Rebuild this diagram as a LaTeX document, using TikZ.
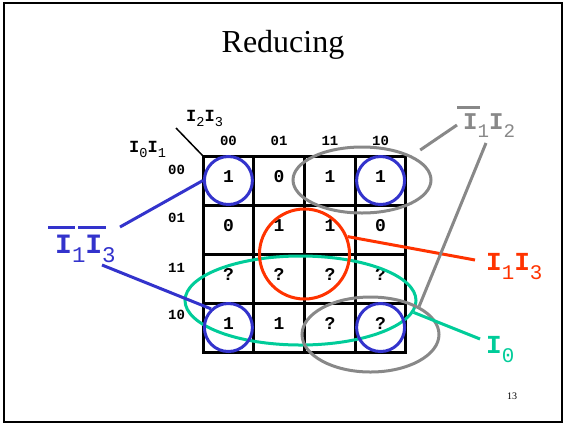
\documentclass[tikz,border=0pt]{standalone}
\usepackage{graphicx}
\usepackage{fontspec}
\setmainfont{Liberation Serif}
\setmonofont{Liberation Mono}
\usetikzlibrary{shapes.geometric}

\definecolor{kblue}{HTML}{3333CC}
\definecolor{kred}{HTML}{FF3300}
\definecolor{kgreen}{HTML}{00CC99}
\definecolor{kgray}{HTML}{888888}

% variable with subscript, and the same with a bar over it
\newcommand{\ix}[1]{I\raisebox{-0.35em}{\mdseries\scalebox{0.8}{#1}}}
\newcommand{\nix}[1]{\makebox[0pt][l]{\hspace{-0.25em}\rule[0.85em]{0.97em}{0.11em}}\ix{#1}}

\begin{document}
\begin{tikzpicture}[
  x=1pt,y=-1pt,
  every node/.style={inner sep=0pt},
  cell/.style={rectangle,draw=black,line width=3pt,outer sep=0pt,
    minimum width=50.75pt,minimum height=49pt,text height=11pt,text depth=7pt,
    font=\ttfamily\bfseries\fontsize{18}{18}\selectfont},
  hdr/.style={font=\ttfamily\bfseries\fontsize{14}{14}\selectfont},
  var/.style={font=\ttfamily\bfseries\fontsize{17}{17}\selectfont},
  big/.style={font=\ttfamily\bfseries\fontsize{#1}{#1}\selectfont},
  ring/.style={circle,draw,line width=3pt,minimum size=#1},
  oval/.style 2 args={ellipse,draw,line width=3pt,minimum width=#1,minimum height=#2},
  lead/.style={line width=3pt}
]
\useasboundingbox (0,0) rectangle (564,424);
\draw[line width=2.5pt] (4,3) rectangle (562,422);
\node[anchor=base,font=\fontsize{32}{32}\selectfont] (title) at (283,52) {Reducing};
\node[anchor=base,font=\fontsize{10}{10}\selectfont] (pgno) at (512,399) {13};
% ================= map cells =================
\node[cell] (c00) at (228.4,180.5) {1};
\node[cell] (c01) at (279.1,180.5) {0};
\node[cell] (c02) at (329.9,180.5) {1};
\node[cell] (c03) at (380.6,180.5) {1};
\node[cell] (c10) at (228.4,229.5) {0};
\node[cell] (c11) at (279.1,229.5) {1};
\node[cell] (c12) at (329.9,229.5) {1};
\node[cell] (c13) at (380.6,229.5) {0};
\node[cell] (c20) at (228.4,278.5) {?};
\node[cell] (c21) at (279.1,278.5) {?};
\node[cell] (c22) at (329.9,278.5) {?};
\node[cell] (c23) at (380.6,278.5) {?};
\node[cell] (c30) at (228.4,327.5) {1};
\node[cell] (c31) at (279.1,327.5) {1};
\node[cell] (c32) at (329.9,327.5) {?};
\node[cell] (c33) at (380.6,327.5) {?};
% ================= headings =================
\node[hdr,anchor=base] (col00) at (228.4,145) {00};
\node[hdr,anchor=base] (col01) at (279.1,145) {01};
\node[hdr,anchor=base] (col11) at (329.9,145) {11};
\node[hdr,anchor=base] (col10) at (380.6,145) {10};
\node[hdr,anchor=base] (row00) at (176.5,174) {00};
\node[hdr,anchor=base] (row01) at (176.5,222) {01};
\node[hdr,anchor=base] (row11) at (176.5,272) {11};
\node[hdr,anchor=base] (row10) at (176.5,319) {10};
\node[var,anchor=base west] (vtop) at (186,121) {\ix{2}\ix{3}};
\node[var,anchor=base west] (vleft) at (129,152) {\ix{0}\ix{1}};
\coordinate (diag) at (176,128);
\draw[line width=1.5pt] (diag) -- (c00.north west);
% ================= groups =================
\node[oval={231pt}{89pt},kgreen] (ge) at (300.5,300.5) {};
\node[ring=90pt,kred] (rc) at (c11.south east) {};
\node[oval={138pt}{66pt},kgray] (gt) at (362,180) {};
\node[oval={137pt}{75pt},kgray] (gb) at (370.5,334.5) {};
\node[ring=48pt,kblue] (b00) at (c00) {};
\node[ring=48pt,kblue] (b03) at (c03) {};
\node[ring=48pt,kblue] (b30) at (c30) {};
\node[ring=48pt,kblue] (b33) at (c33) {};
% ================= group labels =================
\node[big=28,kblue,anchor=base west] (lblb) at (55,253) {\nix{1}\nix{3}};
\coordinate (bq1) at (120,227);
\coordinate (bq2) at (102,265);
\draw[lead,kblue] (bq1) -- (b00.180);
\draw[lead,kblue] (bq2) -- (b30.133);
\node[big=26,kred,anchor=base west] (lblr) at (486,270) {\ix{1}\ix{3}};
\coordinate (rq) at (475,260);
\draw[lead,kred] (rc.22) -- (rq);
\node[big=26,kgreen,anchor=base west] (lblg) at (486,353) {\ix{0}};
\coordinate (gq) at (480,339);
\draw[lead,kgreen] (ge.-6) -- (gq);
\node[big=24,kgray,anchor=base west] (lbla) at (463,129) {\nix{1}\ix{2}};
\coordinate (aq1) at (457,125);
\coordinate (aq2) at (486,143);
\draw[lead,kgray,shorten <=10pt] (gt.26) -- (aq1);
\draw[lead,kgray] (gb.30) -- (aq2);
\end{tikzpicture}
\end{document}
